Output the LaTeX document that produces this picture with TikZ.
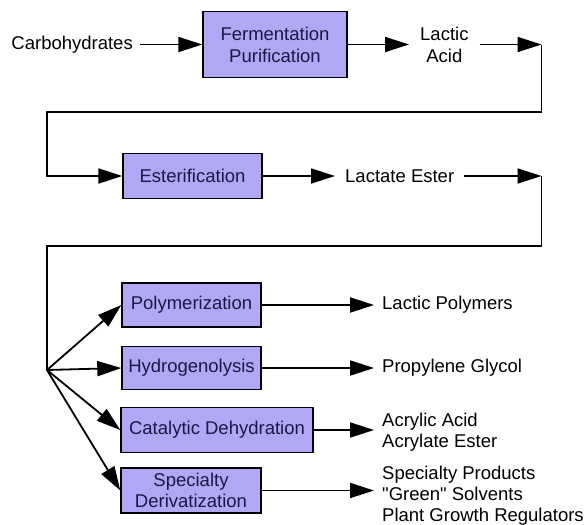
\documentclass[tikz,border=0pt]{standalone}
\usepackage{fontspec}
\setmainfont{Liberation Sans}[Ligatures=TeXOff]
\usetikzlibrary{arrows.meta}
\definecolor{boxfill}{RGB}{176,168,244}
\definecolor{boxtext}{RGB}{25,25,70}
\begin{document}
\begin{tikzpicture}[x=1pt,y=-1pt,
  every node/.style={font=\fontsize{18.5}{22}\selectfont},
  procbox/.style={draw=black, line width=1.4pt, fill=boxfill, text=boxtext, inner sep=0pt, align=center},
  prod/.style={anchor=west, inner xsep=8pt, inner ysep=2pt, align=left},
  arr/.style={line width=1.8pt, -{Triangle[length=24pt,width=15pt]}},
  conn/.style={line width=1.8pt}]
\useasboundingbox (0,0) rectangle (587,525);

% process boxes
\node[procbox, minimum width=144pt, minimum height=66pt] (ferm) at (275,44.5) {Fermentation\\Purification};
\node[procbox, minimum width=139pt, minimum height=45pt] (ester) at (192.5,176) {Esterification};
\node[procbox, minimum width=139pt, minimum height=44pt] (poly) at (191.5,305) {Polymerization};
\node[procbox, minimum width=139pt, minimum height=43pt] (hydro) at (191.5,368) {Hydrogenolysis};
\node[procbox, minimum width=192pt, minimum height=45pt] (cat) at (217,430) {Catalytic Dehydration};
\node[procbox, minimum width=140pt, minimum height=45pt, font=\fontsize{18.5}{21}\selectfont] (spec) at (191,490.5) {Specialty\\Derivatization};

% labels
\node[anchor=east, inner xsep=7pt] (carb) at (140,44.5) {Carbohydrates};
\node[anchor=west, inner xsep=11pt, align=center] (lactic) at (409,44.5) {Lactic\\Acid};
\node[anchor=west, inner xsep=10pt] (le) at (335,176) {Lactate Ester};
\node[prod] (lp) at (374,305) {Lactic Polymers};
\node[prod] (pg) at (374,368) {Propylene Glycol};
\node[prod, font=\fontsize{18.5}{21}\selectfont] (acr) at (374,432) {Acrylic Acid\\Acrylate Ester};
\node[prod, font=\fontsize{18.5}{21}\selectfont] (sp) at (374,496) {Specialty Products\\"Green" Solvents\\Plant Growth Regulators};

% routing coordinates
\coordinate (r1) at (541.5,44.5);
\coordinate (l1) at (47,112);
\coordinate (r2) at (541.5,176);
\coordinate (l2) at (47,246);
\coordinate (fan) at (47,370);

% connectors
\draw[arr] (carb.east) -- (ferm.west);
\draw[arr] (ferm.east) -- (lactic.west);
\draw[arr] (lactic.east) -- (r1);
\draw[arr] (r1) |- (l1) |- (ester.west);
\draw[arr] (ester.east) -- (le.west);
\draw[arr] (le.east) -- (r2);
\draw[conn] (r2) |- (l2) -- (fan);
\draw[arr] (fan) -- (poly.west);
\draw[arr] (fan) -- (hydro.west);
\draw[arr] (fan) -- (cat.west);
\draw[arr] (fan) -- (spec.west);
\draw[arr] (poly.east) -- (lp.west);
\draw[arr] (hydro.east) -- (pg.west);
\draw[arr] (cat.east) -- (acr.west |- cat.east);
\draw[arr] (spec.east) -- (sp.west |- spec.east);
\end{tikzpicture}
\end{document}
